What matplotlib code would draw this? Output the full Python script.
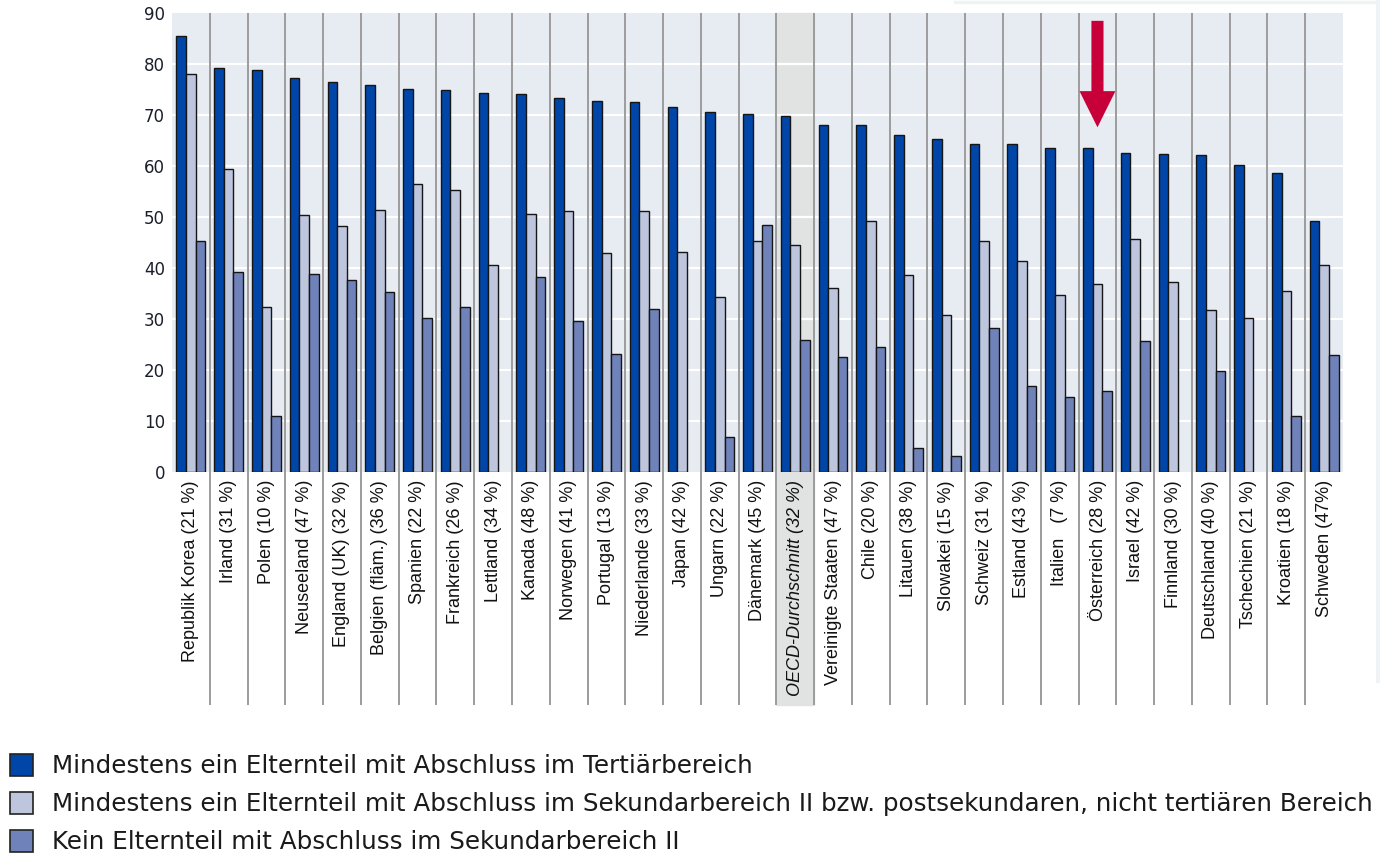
import matplotlib
matplotlib.use("Agg")
import matplotlib.pyplot as plt
from matplotlib.patches import FancyArrow, Rectangle
from matplotlib.lines import Line2D
import numpy as np

plt.rcParams['font.family'] = ['Liberation Sans', 'DejaVu Sans']

countries = [
    "Republik Korea (21 %)", "Irland (31 %)", "Polen (10 %)", "Neuseeland (47 %)",
    "England (UK) (32 %)", "Belgien (fläm.) (36 %)", "Spanien (22 %)", "Frankreich (26 %)",
    "Lettland (34 %)", "Kanada (48 %)", "Norwegen (41 %)", "Portugal (13 %)",
    "Niederlande (33 %)", "Japan (42 %)", "Ungarn (22 %)", "Dänemark (45 %)",
    "OECD-Durchschnitt (32 %)", "Vereinigte Staaten (47 %)", "Chile (20 %)", "Litauen (38 %)",
    "Slowakei (15 %)", "Schweiz (31 %)", "Estland (43 %)", "Italien   (7 %)",
    "Österreich (28 %)", "Israel (42 %)", "Finnland (30 %)", "Deutschland (40 %)",
    "Tschechien (21 %)", "Kroatien (18 %)", "Schweden (47%)",
]

tertiaer = [85.6, 79.2, 78.9, 77.3, 76.5, 76.0, 75.2, 74.9,
            74.3, 74.1, 73.3, 72.8, 72.6, 71.6, 70.6, 70.2,
            69.9, 68.0, 68.0, 66.1, 65.4, 64.3, 64.3, 63.5,
            63.5, 62.6, 62.4, 62.1, 60.2, 58.6, 49.3]

sekundar = [78.1, 59.4, 32.3, 50.4, 48.2, 51.4, 56.5, 55.2,
            40.5, 50.6, 51.2, 42.9, 51.2, 43.2, 34.2, 45.3,
            44.5, 36.1, 49.3, 38.7, 30.7, 45.3, 41.4, 34.7,
            36.8, 45.6, 37.3, 31.7, 30.2, 35.5, 40.5]

kein = [45.3, 39.2, 11.0, 38.9, 37.6, 35.2, 30.1, 32.3,
        None, 38.2, 29.6, 23.2, 32.0, None, 6.8, 48.5,
        25.8, 22.5, 24.5, 4.6, 3.0, 28.3, 16.9, 14.7,
        15.8, 25.7, None, 19.8, None, 11.0, 22.9]

legend_labels = [
    "Mindestens ein Elternteil mit Abschluss im Tertiärbereich",
    "Mindestens ein Elternteil mit Abschluss im Sekundarbereich II bzw. postsekundaren, nicht tertiären Bereich",
    "Kein Elternteil mit Abschluss im Sekundarbereich II",
]
yticks = list(range(0, 91, 10))
highlight = "OECD-Durchschnitt (32 %)"
marked = "Österreich (28 %)"

colors = ["#0046A8", "#BEC6DE", "#6F82BA"]
W, H = 1380, 859
fig = plt.figure(figsize=(W / 100, H / 100), dpi=100)
fig.patch.set_facecolor("white")

# faint overlay box border (top right)
fig.add_artist(Line2D([955 / W, 1377 / W], [1 - 1.5 / H, 1 - 1.5 / H], color="#EEF3F6", lw=2.5,
                      transform=fig.transFigure, zorder=0))
fig.add_artist(Line2D([1377.5 / W, 1377.5 / W], [1 - 1.5 / H, 1 - 680 / H], color="#EEF3F6", lw=3.5,
                      transform=fig.transFigure, zorder=0))

left, right, top, bottom = 172, 1343, 13.2, 471.7
ax = fig.add_axes([left / W, 1 - bottom / H, (right - left) / W, (bottom - top) / H])
ax.set_facecolor("#E7EBF2")
for s in ax.spines.values():
    s.set_visible(False)

n = len(countries)
x = np.arange(n)
ax.set_xlim(-0.5, n - 0.5)
ax.set_ylim(0, 90)

# grid
for v in yticks[1:-1]:
    ax.axhline(v, color="white", lw=1.6, zorder=1)

sep_bottom = -(705 - bottom) / (bottom - top)
hi = countries.index(highlight)
ax.axvspan(hi - 0.5, hi + 0.5, ymin=sep_bottom, ymax=1, color="#E1E2E2", zorder=0.5, clip_on=False)
ax.vlines(np.arange(n - 1) + 0.5, sep_bottom, 1, transform=ax.get_xaxis_transform(),
          color="#9C9C9C", lw=1.4, clip_on=False, zorder=1.5)

bw = 0.255
for k, (series, c) in enumerate(zip([tertiaer, sekundar, kein], colors)):
    xs = [xi + (k - 1) * bw for xi, v in zip(x, series) if v is not None]
    hs = [v for v in series if v is not None]
    ax.bar(xs, hs, width=bw, color=c, edgecolor="#151515", linewidth=1.0, zorder=3)

ax.set_yticks(yticks)
ax.set_yticklabels([str(v) for v in yticks], fontsize=12, color="#1B1E2B",
                   family=["DejaVu Sans"])
ax.set_xticks(x)
ax.set_xticklabels(countries, rotation=90, fontsize=13, color="#111111")
ax.tick_params(axis="both", length=0)
ax.tick_params(axis="x", pad=6)
ax.tick_params(axis="y", pad=5)
for lab in ax.get_xticklabels():
    if lab.get_text() == highlight:
        lab.set_style("italic")

# arrow marking Austria
ai = countries.index(marked)
ax.add_patch(FancyArrow(ai, 88.5, 0, -20.9, width=0.32, head_width=0.95, head_length=7.1,
                        length_includes_head=True, color="#C8003A", zorder=5, lw=0))

# legend
baselines = [773.3, 811.5, 849.3]
for lab, c, yb in zip(legend_labels, colors, baselines):
    yc = yb - 8.5
    fig.add_artist(Rectangle((10 / W, 1 - (yc + 11) / H), 23 / W, 22 / H, transform=fig.transFigure,
                             facecolor=c, edgecolor="#222222", lw=1.2))
    fig.text(52 / W, 1 - yb / H, lab, fontsize=17.75, va="baseline", ha="left", color="#1A1A1A",
             family=["DejaVu Sans"])

fig.savefig("out.png", dpi=100)
